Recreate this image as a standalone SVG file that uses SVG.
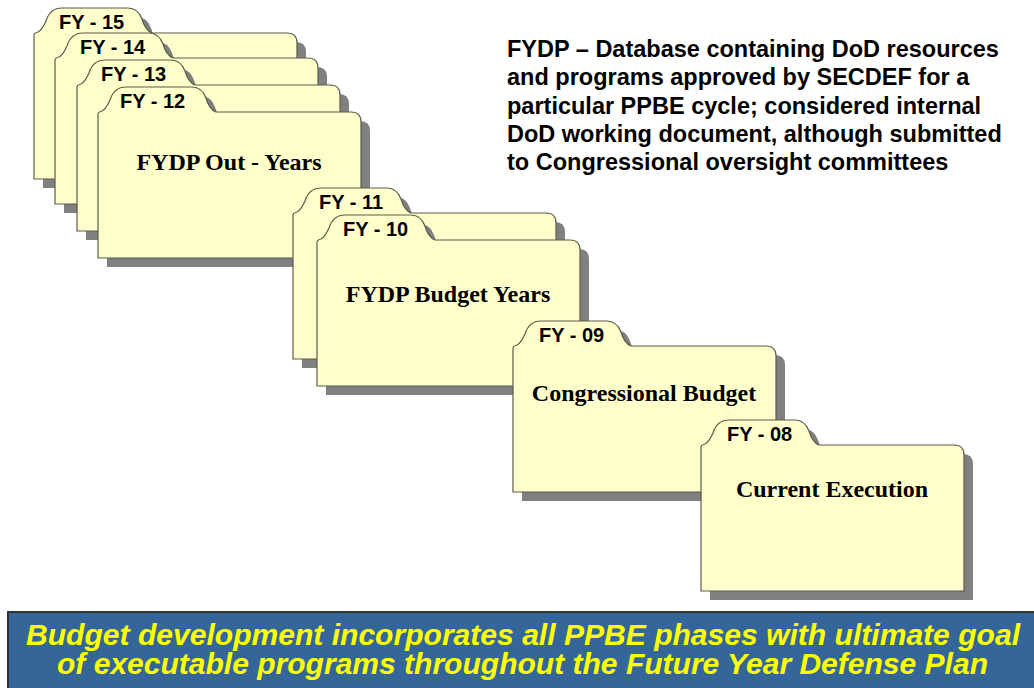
<svg xmlns="http://www.w3.org/2000/svg" width="1034" height="688" viewBox="0 0 1034 688">
<style>
.body{fill:#FFFFCC;stroke:#5a5a4a;stroke-width:1.2}
.shadow{fill:#808080}
.tab{font-family:"Liberation Sans",Arial,sans-serif;font-weight:bold;font-size:20px;fill:#000}
.lbl{font-family:"Liberation Serif","Times New Roman",serif;font-weight:bold;font-size:24px;fill:#000;text-anchor:middle}
.note{font-family:"Liberation Sans",Arial,sans-serif;font-weight:bold;font-size:23.5px;fill:#000}
.ban{font-family:"Liberation Sans",Arial,sans-serif;font-weight:bold;font-style:italic;font-size:29px;fill:#FFFF00}
</style>
<defs>
<path id="folder" d="M0,146 L0,2 Q0,0 4,-1 Q8,-3 12,-12 Q16,-25 28,-25 L94,-25 Q104,-25 108,-14 Q111,-3 118,0 L253,0 Q263,0 263,10 L263,146 Z"/>
</defs>
<rect width="1034" height="688" fill="#FFFFFF"/>

<g id="fy15" transform="translate(34,33)">
<use href="#folder" class="shadow" x="9" y="9"/>
<use href="#folder" class="body"/>
<text class="tab" x="25" y="-4">FY - 15</text>
</g>
<g id="fy14" transform="translate(55,58)">
<use href="#folder" class="shadow" x="9" y="9"/>
<use href="#folder" class="body"/>
<text class="tab" x="25" y="-4">FY - 14</text>
</g>
<g id="fy13" transform="translate(77,85)">
<use href="#folder" class="shadow" x="9" y="9"/>
<use href="#folder" class="body"/>
<text class="tab" x="24" y="-4">FY - 13</text>
</g>
<g id="fy12" transform="translate(98,112)">
<use href="#folder" class="shadow" x="9" y="9"/>
<use href="#folder" class="body"/>
<text class="tab" x="22" y="-4">FY - 12</text>
<text class="lbl" x="131" y="58">FYDP Out - Years</text>
</g>
<g id="fy11" transform="translate(293,213)">
<use href="#folder" class="shadow" x="9" y="9"/>
<use href="#folder" class="body"/>
<text class="tab" x="26" y="-4">FY - 11</text>
</g>
<g id="fy10" transform="translate(317,240)">
<use href="#folder" class="shadow" x="9" y="9"/>
<use href="#folder" class="body"/>
<text class="tab" x="26" y="-4">FY - 10</text>
<text class="lbl" x="131" y="62">FYDP Budget Years</text>
</g>
<g id="fy09" transform="translate(513,346)">
<use href="#folder" class="shadow" x="9" y="9"/>
<use href="#folder" class="body"/>
<text class="tab" x="26" y="-4">FY - 09</text>
<text class="lbl" x="131" y="55">Congressional Budget</text>
</g>
<g id="fy08" transform="translate(701,445)">
<use href="#folder" class="shadow" x="9" y="9"/>
<use href="#folder" class="body"/>
<text class="tab" x="26" y="-4">FY - 08</text>
<text class="lbl" x="131" y="52">Current Execution</text>
</g>

<g id="connectors"></g>

<g id="note">
<text class="note" x="507" y="57">FYDP – Database containing DoD resources</text>
<text class="note" x="507" y="85">and programs approved by SECDEF for a</text>
<text class="note" x="507" y="114">particular PPBE cycle; considered internal</text>
<text class="note" x="507" y="142">DoD working document, although submitted</text>
<text class="note" x="507" y="170">to Congressional oversight committees</text>
</g>

<g id="banner">
<rect x="8" y="612" width="1030" height="80" fill="#34669A" stroke="#333333" stroke-width="2"/>
<text class="ban" x="26" y="645" textLength="994" lengthAdjust="spacingAndGlyphs">Budget development incorporates all PPBE phases with ultimate goal</text>
<text class="ban" x="57" y="674" textLength="931" lengthAdjust="spacingAndGlyphs">of executable programs throughout the Future Year Defense Plan</text>
</g>
</svg>
